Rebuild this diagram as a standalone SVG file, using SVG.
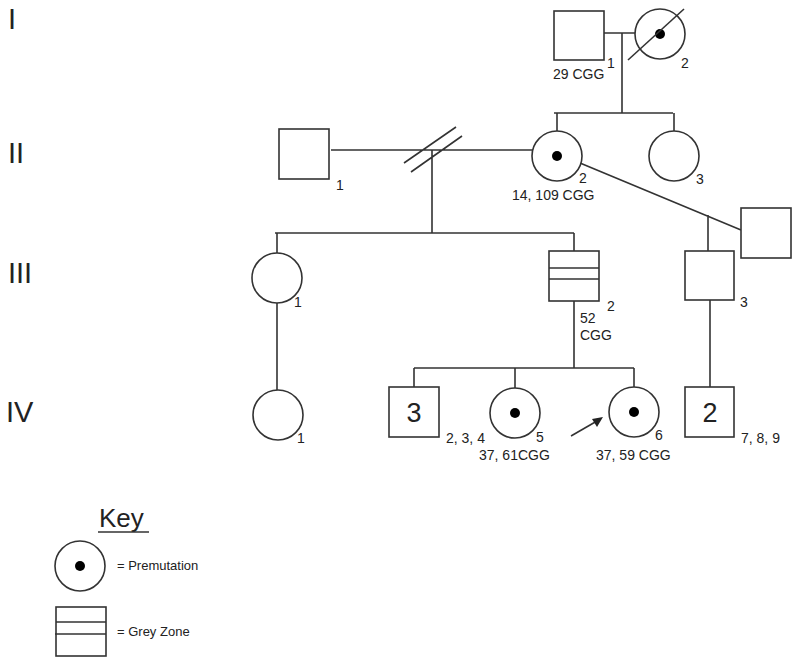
<svg xmlns="http://www.w3.org/2000/svg" width="800" height="665" viewBox="0 0 800 665">
<style>
.s{fill:#fff;stroke:#333;stroke-width:1.6}
.l{fill:none;stroke:#333;stroke-width:1.6}
.d{fill:#000}
text{font-family:"Liberation Sans",Arial,sans-serif;fill:#222}
.t{font-size:14px}
.g{font-size:29px}
.big{font-size:27px;text-anchor:middle}
</style>
<rect width="800" height="665" fill="#fff"/>
<g id="gen-labels">
<text class="g" x="8" y="29">I</text>
<text class="g" x="8" y="163">II</text>
<text class="g" x="8" y="283">III</text>
<text class="g" x="6" y="422">IV</text>
</g>
<g id="connectors">
<path class="l" d="M604 33H635M622 33V113M554 113H673M557 113V131M674 113V131"/>
<path class="l" d="M331 150H533M432 150V233M404 163L456 127M411 172L462 136"/>
<path class="l" d="M580 163L741 230M708 215V251"/>
<path class="l" d="M275 233H574M277 233V253M574 233V251"/>
<path class="l" d="M277 303V390"/>
<path class="l" d="M574 301V368M414 368H634M414 368V387M515 368V388M634 368V387"/>
<path class="l" d="M710 300V387"/>
<path class="l" d="M571 436L597 421"/>
<path d="M603 417L592 419L597 427Z" fill="#222"/>
</g>
<g id="I-1"><rect class="s" x="554" y="11" width="50" height="49"/><text class="t" x="607" y="68">1</text><text class="t" x="553" y="79">29 CGG</text></g>
<g id="I-2"><circle class="s" cx="660" cy="34" r="25"/><circle class="d" cx="660" cy="34" r="5"/><path class="l" d="M628 60L684 9"/><text class="t" x="681" y="68">2</text></g>
<g id="II-1"><rect class="s" x="279" y="129" width="50" height="50"/><text class="t" x="336" y="190">1</text></g>
<g id="II-2"><circle class="s" cx="557" cy="156" r="25"/><circle class="d" cx="557" cy="156" r="5"/><text class="t" x="579" y="183">2</text><text class="t" x="512" y="200">14, 109 CGG</text></g>
<g id="II-3"><circle class="s" cx="674" cy="156" r="25"/><text class="t" x="696" y="184">3</text></g>
<g id="II-4"><rect class="s" x="741" y="208" width="50" height="50"/></g>
<g id="III-1"><circle class="s" cx="277" cy="278" r="25"/><text class="t" x="294" y="307">1</text></g>
<g id="III-2"><rect class="s" x="549" y="251" width="50" height="50"/><path class="l" d="M549 268H599M549 279H599"/><text class="t" x="607" y="311">2</text><text class="t" x="580" y="323">52</text><text class="t" x="580" y="340">CGG</text></g>
<g id="III-3"><rect class="s" x="685" y="251" width="49" height="49"/><text class="t" x="740" y="307">3</text></g>
<g id="IV-1"><circle class="s" cx="278" cy="415" r="25"/><text class="t" x="297" y="443">1</text></g>
<g id="IV-2-4"><rect class="s" x="389" y="387" width="50" height="50"/><text class="big" x="414" y="422">3</text><text class="t" x="446" y="443">2, 3, 4</text></g>
<g id="IV-5"><circle class="s" cx="515" cy="413" r="25"/><circle class="d" cx="515" cy="413" r="5"/><text class="t" x="536" y="442">5</text><text class="t" x="479" y="460">37, 61CGG</text></g>
<g id="IV-6"><circle class="s" cx="634" cy="412" r="25"/><circle class="d" cx="634" cy="412" r="5"/><text class="t" x="655" y="440">6</text><text class="t" x="596" y="460">37, 59 CGG</text></g>
<g id="IV-7-9"><rect class="s" x="685" y="387" width="49" height="50"/><text class="big" x="710" y="422">2</text><text class="t" x="741" y="443">7, 8, 9</text></g>
<g id="key">
<text x="99" y="527" style="font-size:26px">Key</text>
<path class="l" d="M98 532H149"/>
<circle class="s" cx="80" cy="566" r="25"/><circle class="d" cx="80" cy="566" r="5"/>
<text x="117" y="570" style="font-size:13px">= Premutation</text>
<rect class="s" x="56" y="607" width="50" height="49"/><path class="l" d="M56 622H106M55 634H106"/>
<text x="117" y="636" style="font-size:13px">= Grey Zone</text>
</g>
</svg>
